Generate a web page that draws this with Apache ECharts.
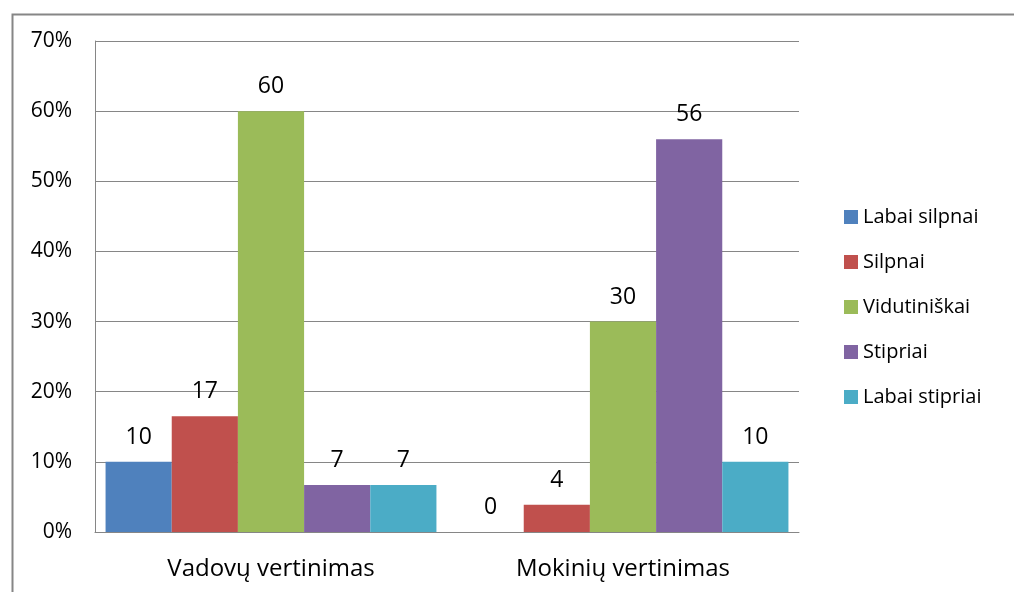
<!DOCTYPE html>
<html>
<head>
<meta charset="utf-8">
<script src="https://cdn.jsdelivr.net/npm/echarts@6/dist/echarts.min.js"></script>
<style>
    html, body { margin: 0; padding: 0; background: #fff; }
    #chart { width: 1014px; height: 592px; }
</style>
</head>
<body>
<div id="chart"></div>
<script>
// data (percent)
const categories = ['Vadovų vertinimas', 'Mokinių vertinimas'];
const seriesNames = ['Labai silpnai', 'Silpnai', 'Vidutiniškai', 'Stipriai', 'Labai stipriai'];
const labaiSilpnai = [10, 0];
const silpnai = [16.5, 3.9];
const vidutiniskai = [60, 30];
const stipriai = [6.7, 56];
const labaiStipriai = [6.7, 10];
const yTicks = [0, 10, 20, 30, 40, 50, 60, 70];

const colors = ['#4F81BD', '#C0504D', '#9BBB59', '#8064A2', '#4BACC6'];
const allValues = [labaiSilpnai, silpnai, vidutiniskai, stipriai, labaiStipriai];
const font = '"Open Sans", "Noto Sans", sans-serif';

const chart = echarts.init(document.getElementById('chart'));

chart.setOption({
    animation: false,
    color: colors,
    textStyle: { fontFamily: font },
    graphic: [
        {
            // chart frame, only the left and top edges are in view
            type: 'rect',
            left: 10,
            top: 12,
            shape: { width: 1100, height: 700 },
            style: { fill: 'none', stroke: '#868686', lineWidth: 2 }
        }
    ],
    grid: {
        left: 95,
        right: 215,
        top: 41,
        bottom: 60
    },
    legend: {
        orient: 'vertical',
        left: 839,
        top: 202,
        icon: 'rect',
        itemWidth: 14,
        itemHeight: 14,
        itemGap: 25,
        data: seriesNames,
        textStyle: { fontSize: 20, color: '#000', fontFamily: font }
    },
    xAxis: {
        type: 'category',
        data: categories,
        axisLine: { lineStyle: { color: '#868686', width: 1 } },
        axisTick: { show: false },
        axisLabel: { color: '#000', fontSize: 24, margin: 25, fontFamily: font }
    },
    yAxis: {
        type: 'value',
        min: yTicks[0],
        max: yTicks[yTicks.length - 1],
        interval: 10,
        axisLine: { show: true, lineStyle: { color: '#868686', width: 1 } },
        axisTick: { show: false },
        splitLine: { lineStyle: { color: '#868686', width: 1 } },
        axisLabel: {
            color: '#000',
            fontSize: 21,
            margin: 23,
            fontFamily: font,
            formatter: v => v + '%'
        }
    },
    series: seriesNames.map((name, i) => ({
        name: name,
        type: 'bar',
        barGap: '0%',
        barCategoryGap: '6%',
        data: allValues[i],
        itemStyle: { color: colors[i] },
        label: {
            show: true,
            position: 'top',
            distance: 13,
            color: '#000',
            fontSize: 23,
            fontFamily: font,
            formatter: p => Math.round(p.value)
        }
    }))
});
</script>
</body>
</html>
